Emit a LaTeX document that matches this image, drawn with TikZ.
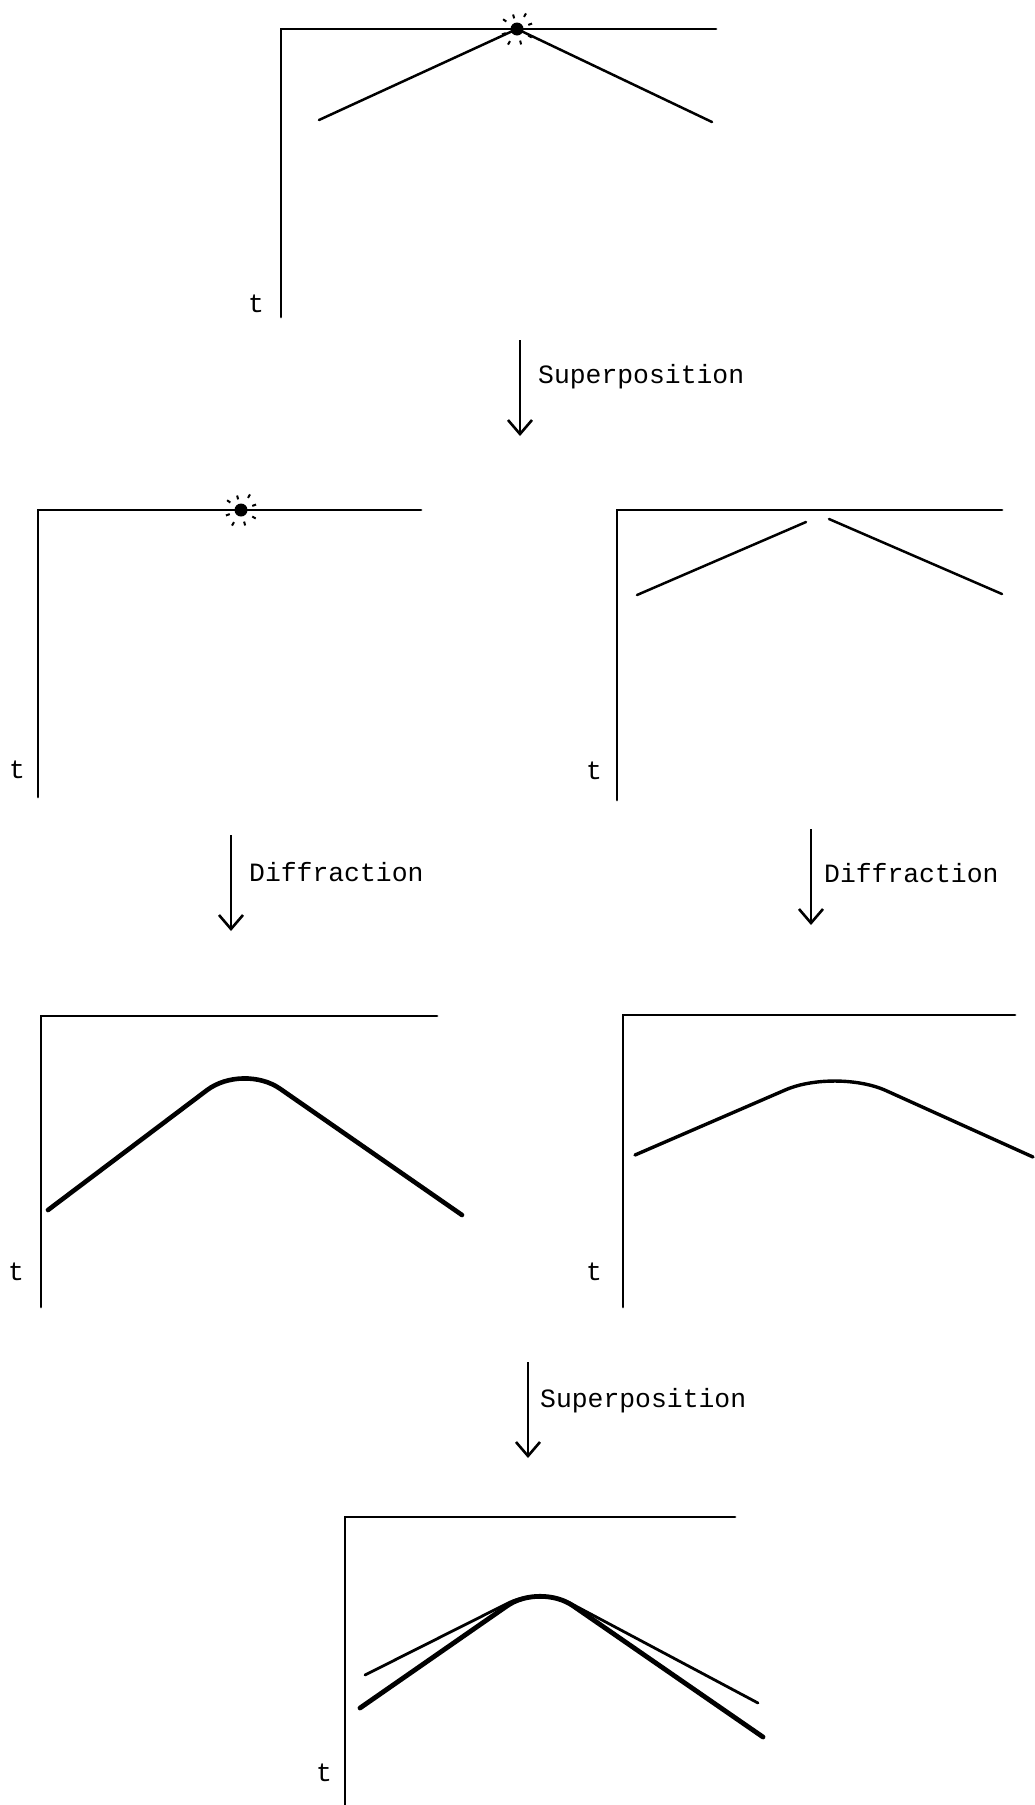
\documentclass[tikz,border=0pt]{standalone}
\usepackage{fontspec}
\setmonofont{Liberation Mono}
\usetikzlibrary{arrows.meta}

\begin{document}
\begin{tikzpicture}[x=1pt,y=-1pt, axis/.style={line width=2.7pt,line cap=round}, front/.style={line width=2.5pt,line cap=round}, flow/.style={-{Straight Barb[length=14pt,width=24pt,line width=2.6pt]},line width=2.6pt}, lab/.style={font=\ttfamily\fontsize{26.4}{29}\selectfont,inner sep=0pt,anchor=west}, tlab/.style={font=\ttfamily\fontsize{26.4}{29}\selectfont,inner sep=0pt}]
\useasboundingbox (0,0) rectangle (1034,1805);
% axes of the six panels
\foreach \n/\x/\y/\w/\b/\tx/\ty in {top/281/29/716/317/256/304, pl/38/510/421/797/17/770, pr/617/510/1002/800/594/771, dl/41/1016/437/1307/16/1272, dr/623/1015/1015/1307/594/1272, sum/345/1517/735/1805/324/1773}
  {\draw[axis] (\w,\y) -- (\x,\y) -- (\x,\b); \node[tlab] (t\n) at (\tx,\ty) {t};}
% point source with its flash
\foreach \p in {(517,29),(241,510)} {\fill \p circle (6.5pt); \foreach \a/\r in {30/13,75/12,120/14,160/12,215/13,255/11,300/14,340/12} \draw[line width=2pt] \p ++(\a:\r) -- ++(\a:4);}
\draw[front] (319,120) -- (517,29) -- (712,122);
\draw[front] (637,595) -- (806,522); \draw[front] (829,519) -- (1002,594);
% diffracted fronts
\draw[line width=4.6pt,line cap=round,rounded corners=45pt] (48,1210) -- (243,1063) -- (462,1215);
\draw[line width=3.4pt,line cap=round,rounded corners=55pt] (635,1155) -- (836,1068) -- (1033,1157);
\draw[line width=2.8pt,line cap=round,rounded corners=35pt] (365,1675) -- (540,1587) -- (758,1703);
\draw[line width=4.8pt,line cap=round,rounded corners=40pt] (360,1708) -- (540,1583) -- (763,1737);
% steps
\coordinate (s1a) at (520,340); \coordinate (s1b) at (520,436); \draw[flow] (s1a) -- (s1b); \node[lab] (s1) at (538,377) {Superposition};
\coordinate (d1a) at (231,835); \coordinate (d1b) at (231,931); \draw[flow] (d1a) -- (d1b); \node[lab] (d1) at (249,872) {Diffraction};
\coordinate (d2a) at (811,829); \coordinate (d2b) at (811,925); \draw[flow] (d2a) -- (d2b); \node[lab] (d2) at (824,873) {Diffraction};
\coordinate (s2a) at (528,1362); \coordinate (s2b) at (528,1458); \draw[flow] (s2a) -- (s2b); \node[lab] (s2) at (540,1401) {Superposition};
\end{tikzpicture}
\end{document}
